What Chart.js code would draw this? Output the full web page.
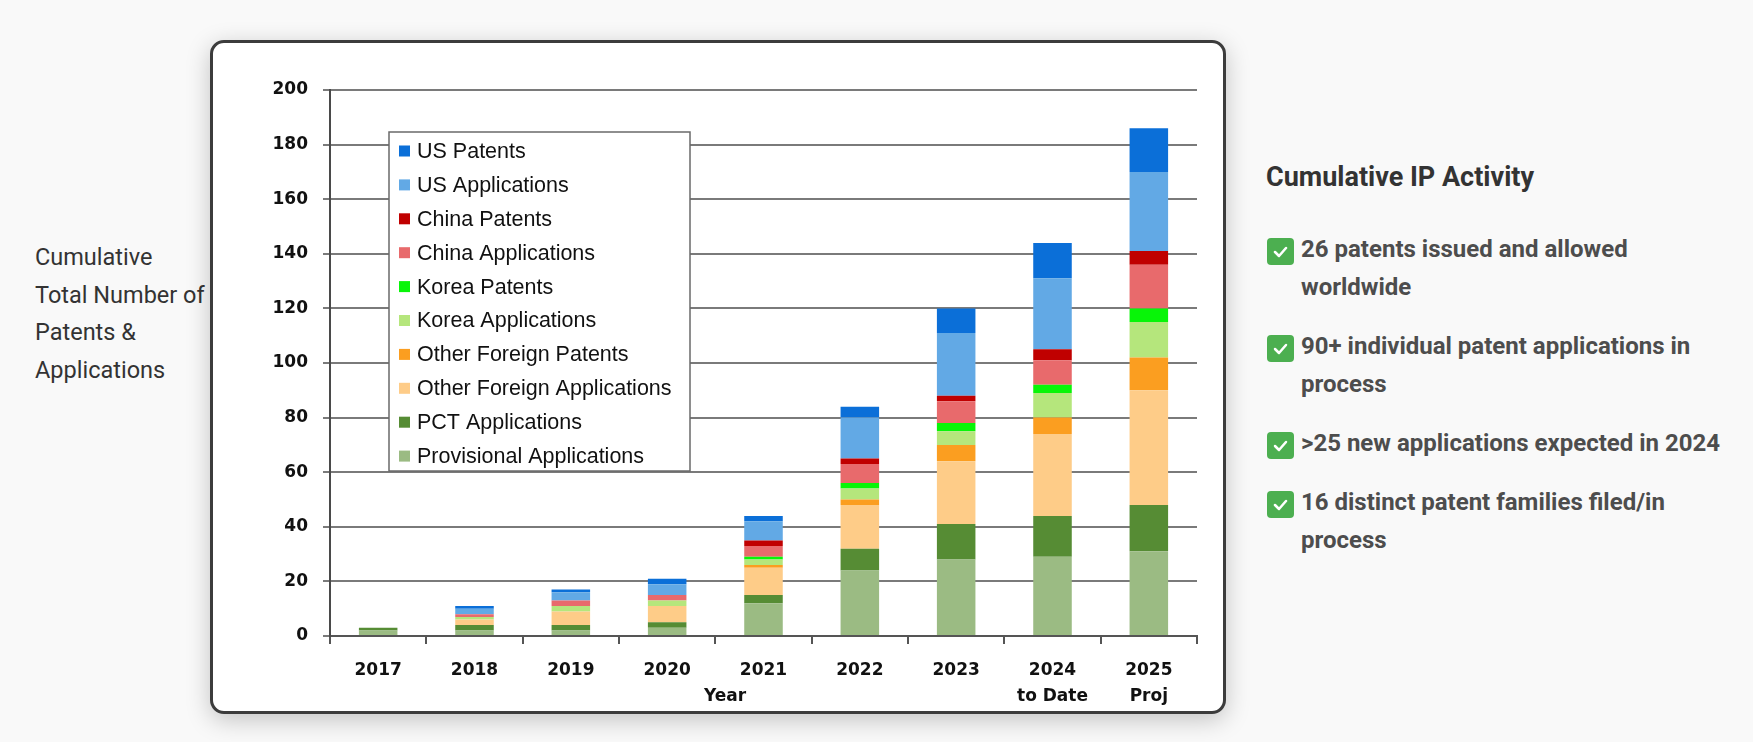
<!DOCTYPE html>
<html>
<head>
<meta charset="utf-8">
<script src="https://cdn.jsdelivr.net/npm/chart.js@4.4.1/dist/chart.umd.min.js"></script>
<style>
  html, body { margin: 0; padding: 0; }
  body { width: 1753px; height: 742px; background: #f9f9f9; position: relative; overflow: hidden; font-family: Roboto, "Noto Sans", sans-serif; }
  .gauche { position: absolute; left: 35px; top: 239px; font-size: 23.5px; line-height: 37.5px; color: #333; }
  .panneau { position: absolute; left: 210px; top: 40px; width: 1016px; height: 674px; box-sizing: border-box;
    border: 3px solid #3c3c3c; border-radius: 14px; background: #fff; box-shadow: 0 6px 24px rgba(0,0,0,0.22); overflow: hidden; }
  .panneau canvas { display: block; }
  .droite { position: absolute; left: 1266px; top: 158px; color: #4d4d4d; }
  .droite h2 { margin: 0; font-size: 27px; line-height: 38px; font-weight: 700; color: #333; }
  .droite ul { list-style: none; margin: 0; padding: 0; position: absolute; top: 72px; left: 0; width: 470px; }
  .droite li { position: relative; padding-left: 35px; font-size: 24px; line-height: 38px; font-weight: 700; white-space: nowrap; margin-bottom: 21px; }
  .coche { position: absolute; left: 1px; top: 8px; width: 27px; height: 27px; border-radius: 4px; background: #4caf50; }
  .coche svg { display: block; }
</style>
</head>
<body>
<div class="gauche">Cumulative<br>Total Number of<br>Patents &amp;<br>Applications</div>

<div class="panneau"><canvas id="chartBrevets" width="1010" height="668"></canvas></div>

<div class="droite">
  <h2>Cumulative IP Activity</h2>
  <ul>
    <li><span class="coche"><svg width="27" height="27"><polyline points="8,14 12,18 19,10" fill="none" stroke="#fff" stroke-width="2.5" stroke-linecap="round" stroke-linejoin="round"/></svg></span>26 patents issued and allowed<br>worldwide</li>
    <li><span class="coche"><svg width="27" height="27"><polyline points="8,14 12,18 19,10" fill="none" stroke="#fff" stroke-width="2.5" stroke-linecap="round" stroke-linejoin="round"/></svg></span>90+ individual patent applications in<br>process</li>
    <li><span class="coche"><svg width="27" height="27"><polyline points="8,14 12,18 19,10" fill="none" stroke="#fff" stroke-width="2.5" stroke-linecap="round" stroke-linejoin="round"/></svg></span>&gt;25 new applications expected in 2024</li>
    <li><span class="coche"><svg width="27" height="27"><polyline points="8,14 12,18 19,10" fill="none" stroke="#fff" stroke-width="2.5" stroke-linecap="round" stroke-linejoin="round"/></svg></span>16 distinct patent families filed/in<br>process</li>
  </ul>
</div>

<script>
// Années (axe X)
const annees = ['2017', '2018', '2019', '2020', '2021', '2022', '2023', ['2024', 'to Date'], ['2025', 'Proj']];

// Séries, du bas de la pile vers le haut
const provisoires     = [2, 2, 2, 3, 12, 24, 28, 29, 31];
const pct             = [1, 2, 2, 2, 3, 8, 13, 15, 17];
const etrangersDemandes = [0, 2, 5, 6, 10, 16, 23, 30, 42];
const etrangersBrevets  = [0, 0, 0, 0, 1, 2, 6, 6, 12];
const coreeDemandes   = [0, 1, 2, 2, 2, 4, 5, 9, 13];
const coreeBrevets    = [0, 0, 0, 0, 1, 2, 3, 3, 5];
const chineDemandes   = [0, 1, 2, 2, 4, 7, 8, 9, 16];
const chineBrevets    = [0, 0, 0, 0, 2, 2, 2, 4, 5];
const usDemandes      = [0, 2, 3, 4, 7, 15, 23, 26, 29];
const usBrevets       = [0, 1, 1, 2, 2, 4, 9, 13, 16];

const ticksY = [0, 20, 40, 60, 80, 100, 120, 140, 160, 180, 200];

const series = [
  { label: 'Provisional Applications',     data: provisoires,       couleur: '#9bbb83' },
  { label: 'PCT Applications',             data: pct,               couleur: '#568c34' },
  { label: 'Other Foreign Applications',   data: etrangersDemandes, couleur: '#fecc88' },
  { label: 'Other Foreign Patents',        data: etrangersBrevets,  couleur: '#fb9e20' },
  { label: 'Korea Applications',           data: coreeDemandes,     couleur: '#b5e67c' },
  { label: 'Korea Patents',                data: coreeBrevets,      couleur: '#08f508' },
  { label: 'China Applications',           data: chineDemandes,     couleur: '#e86a6c' },
  { label: 'China Patents',                data: chineBrevets,      couleur: '#c00000' },
  { label: 'US Applications',              data: usDemandes,        couleur: '#62a9e5' },
  { label: 'US Patents',                   data: usBrevets,         couleur: '#0b6fd8' }
];

const policeAxe = { family: '"DejaVu Sans", Verdana, sans-serif', size: 17, weight: 'bold' };

// Légende encadrée dans la zone du graphique
const legendeBoite = {
  id: 'legendeBoite',
  afterDatasetsDraw(chart) {
    const { ctx, chartArea } = chart;
    const x = chartArea.left + 59, y = chartArea.top + 42, w = 301, h = 339;
    ctx.save();
    ctx.fillStyle = '#fff';
    ctx.fillRect(x, y, w, h);
    ctx.strokeStyle = '#6a6a6a';
    ctx.lineWidth = 1.5;
    ctx.strokeRect(x, y, w, h);
    ctx.font = '21.5px "Liberation Sans", Arial, sans-serif';
    ctx.textBaseline = 'middle';
    chart.data.datasets.slice().reverse().forEach((ds, i) => {
      const cy = y + 19 + i * 33.9;
      ctx.fillStyle = ds.backgroundColor;
      ctx.fillRect(x + 10, cy - 5.5, 11, 11);
      ctx.fillStyle = '#111';
      ctx.fillText(ds.label, x + 28, cy + 1);
    });
    ctx.restore();
  }
};

// Titre "Year" sur la deuxième ligne des étiquettes
const titreAnnee = {
  id: 'titreAnnee',
  afterDraw(chart) {
    const { ctx, chartArea } = chart;
    ctx.save();
    ctx.font = `bold ${policeAxe.size}px ${policeAxe.family}`;
    ctx.fillStyle = '#111';
    ctx.textAlign = 'center';
    ctx.textBaseline = 'middle';
    ctx.fillText('Year', chartArea.left + 395, chartArea.bottom + 61);
    ctx.restore();
  }
};

new Chart(document.getElementById('chartBrevets'), {
  type: 'bar',
  data: {
    labels: annees,
    datasets: series.map(s => ({
      label: s.label,
      data: s.data,
      backgroundColor: s.couleur,
      borderWidth: 0,
      barPercentage: 0.4,
      categoryPercentage: 1
    }))
  },
  options: {
    responsive: false,
    animation: false,
    layout: { padding: { top: 47, right: 26, bottom: 0, left: 0 } },
    plugins: { legend: { display: false }, tooltip: { enabled: false } },
    scales: {
      x: {
        stacked: true,
        afterFit: (s) => { s.height = 75; },
        grid: { offset: true, drawOnChartArea: false, drawTicks: true, tickLength: 8, color: '#555', lineWidth: 2 },
        border: { color: '#555', width: 2 },
        ticks: { color: '#111', font: { ...policeAxe, lineHeight: 26 / 17 }, padding: 14, maxRotation: 0, autoSkip: false }
      },
      y: {
        stacked: true,
        min: ticksY[0],
        max: ticksY[ticksY.length - 1],
        afterFit: (s) => { s.width = 117; },
        afterBuildTicks: (s) => { s.ticks = ticksY.map(v => ({ value: v })); },
        grid: { color: '#7a7a7a', lineWidth: 2, drawTicks: true, tickLength: 7 },
        border: { color: '#4a4a4a', width: 2 },
        ticks: { color: '#111', font: policeAxe, padding: 15 }
      }
    }
  },
  plugins: [legendeBoite, titreAnnee]
});
</script>
</body>
</html>
